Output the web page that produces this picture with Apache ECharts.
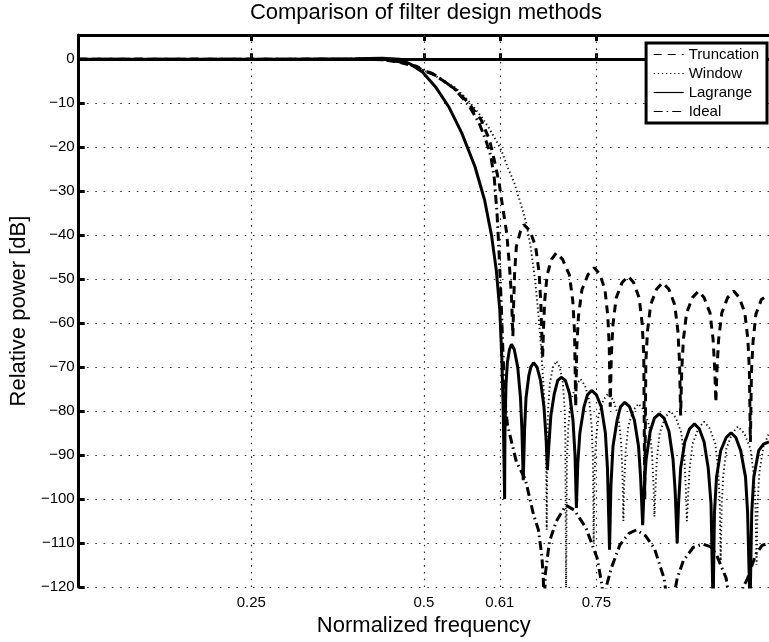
<!DOCTYPE html>
<html>
<head>
<meta charset="utf-8">
<title>Comparison of filter design methods</title>
<script src="https://cdn.jsdelivr.net/npm/echarts@6/dist/echarts.min.js"></script>
<style>
  html, body { margin: 0; padding: 0; background: #fff; }
  #chart { width: 769px; height: 642px; }
</style>
</head>
<body>
<div id="chart"></div>
<script>
// tick positions on the frequency axis
const xTicks = [0.25, 0.5, 0.61, 0.75];
const yMin = -120;
const yMax = 5.5;
const seriesNames = ["Truncation", "Window", "Lagrange", "Ideal"];

// [normalized frequency, relative power in dB]
const truncation = [
  [0, 0], [0.1, 0], [0.2, 0], [0.3, 0], [0.4, 0], [0.44, -0.1], [0.465, -0.7], [0.489, -1.7],
  [0.5, -2.6], [0.513, -3.4], [0.527, -4.8], [0.546, -6.9], [0.565, -10], [0.583, -13.8],
  [0.595, -18.3], [0.602, -22.9], [0.609, -28.1], [0.614, -33.4], [0.62, -39.5], [0.624, -47],
  [0.627, -54], [0.629, -63],
  [0.63, -56], [0.6315, -48.6], [0.634, -42.6], [0.64, -39.1], [0.645, -37.6], [0.654, -39.1],
  [0.662, -42.6], [0.667, -48.6], [0.6695, -55.6], [0.672, -68],
  [0.6732, -62], [0.675, -55], [0.6786, -49], [0.685, -45.5], [0.692, -44], [0.701, -45.5],
  [0.7108, -49], [0.7158, -55], [0.7183, -62], [0.72, -79],
  [0.7216, -65.4], [0.724, -58.4], [0.729, -52.4], [0.738, -48.9], [0.747, -47.4], [0.755, -48.9],
  [0.7624, -52.4], [0.7665, -58.4], [0.7686, -65.4], [0.77, -79],
  [0.7716, -67.3], [0.774, -60.3], [0.7786, -54.3], [0.787, -50.8], [0.796, -49.3], [0.804, -50.8],
  [0.812, -54.3], [0.8164, -60.3], [0.8186, -67.3], [0.82, -100],
  [0.8216, -68.8], [0.824, -61.8], [0.8286, -55.8], [0.837, -52.3], [0.846, -50.8], [0.855, -52.3],
  [0.8634, -55.8], [0.868, -61.8], [0.8704, -68.8], [0.872, -81],
  [0.8736, -70.7], [0.876, -63.7], [0.8806, -57.7], [0.889, -54.2], [0.898, -52.7], [0.906, -54.2],
  [0.9146, -57.7], [0.919, -63.7], [0.9215, -70.7], [0.923, -78],
  [0.9246, -70.7], [0.927, -63.7], [0.9316, -57.7], [0.94, -54.2], [0.949, -52.7], [0.957, -54.2],
  [0.965, -57.7], [0.9694, -63.7], [0.9716, -70.7], [0.973, -87],
  [0.9746, -71], [0.977, -64], [0.981, -58], [0.989, -54.6], [1, -53.5]
];

const windowed = [
  [0, 0], [0.1, 0], [0.2, 0], [0.3, 0], [0.4, 0], [0.44, -0.1], [0.465, -0.7], [0.489, -1.7],
  [0.5, -2.6], [0.513, -3.4], [0.527, -4.8], [0.546, -6.5], [0.565, -9.5], [0.583, -13],
  [0.593, -15.3], [0.603, -18], [0.612, -20.6], [0.621, -24.4], [0.631, -28.1], [0.64, -32.7],
  [0.648, -37], [0.655, -43], [0.661, -50], [0.666, -58], [0.67, -66], [0.674, -76], [0.677, -88],
  [0.678, -107],
  [0.679, -86.6], [0.68, -79.6], [0.6826, -73.6], [0.687, -70.1], [0.692, -68.6], [0.697, -70.1],
  [0.7014, -73.6], [0.704, -79.6], [0.705, -86.6], [0.706, -122],
  [0.7073, -90.7], [0.7092, -83.7], [0.713, -77.7], [0.72, -74.2], [0.727, -72.7], [0.7335, -74.2],
  [0.7397, -77.7], [0.7432, -83.7], [0.7449, -90.7], [0.746, -110],
  [0.7473, -94], [0.7492, -87], [0.753, -81], [0.76, -77.5], [0.767, -76], [0.7743, -77.5],
  [0.7817, -81], [0.7857, -87], [0.7877, -94], [0.789, -105],
  [0.7903, -96.3], [0.7923, -89.3], [0.7963, -83.3], [0.8035, -79.8], [0.811, -78.3], [0.8187, -79.8],
  [0.8264, -83.3], [0.8305, -89.3], [0.8326, -96.3], [0.834, -104],
  [0.8354, -98], [0.8375, -91], [0.8416, -85], [0.8493, -81.5], [0.857, -80], [0.865, -81.5],
  [0.8731, -85], [0.8774, -91], [0.8796, -98], [0.881, -105],
  [0.8825, -100.4], [0.8848, -93.4], [0.8893, -87.4], [0.8977, -83.9], [0.906, -82.4], [0.914, -83.9],
  [0.9222, -87.4], [0.9264, -93.4], [0.9286, -100.4], [0.93, -114],
  [0.9315, -101.5], [0.9338, -94.5], [0.9383, -88.5], [0.9467, -85], [0.955, -83.5], [0.964, -85],
  [0.9731, -88.5], [0.978, -94.5], [0.9804, -101.5], [0.982, -115],
  [0.9835, -101], [0.986, -94], [0.992, -88], [1, -85]
];

const lagrange = [
  [0, 0], [0.1, 0], [0.2, 0], [0.3, 0], [0.4, 0.1], [0.44, 0.2], [0.465, 0], [0.479, -1],
  [0.498, -2.9], [0.517, -6.3], [0.536, -10.8], [0.555, -16.8], [0.574, -24.4], [0.588, -32],
  [0.598, -40], [0.605, -48], [0.61, -57], [0.613, -68], [0.615, -80], [0.617, -100],
  [0.6175, -85], [0.619, -74], [0.621, -69], [0.624, -66], [0.627, -64.8], [0.631, -66],
  [0.636, -70], [0.64, -77], [0.642, -84], [0.644, -95.7],
  [0.646, -84], [0.648, -77], [0.652, -72], [0.655, -70], [0.659, -69], [0.664, -70],
  [0.669, -73], [0.674, -79], [0.677, -86], [0.679, -93.4],
  [0.681, -88], [0.684, -81], [0.689, -76], [0.694, -73], [0.699, -72.3], [0.705, -73],
  [0.711, -76], [0.716, -82], [0.719, -90], [0.721, -102],
  [0.723, -92], [0.726, -85], [0.732, -79], [0.737, -76.3], [0.743, -75.3], [0.75, -76.3],
  [0.757, -79], [0.763, -85], [0.766, -93], [0.769, -111.5],
  [0.771, -97], [0.774, -88], [0.78, -82], [0.785, -79], [0.791, -78], [0.798, -79],
  [0.805, -82], [0.811, -88], [0.814, -95], [0.817, -105.9],
  [0.819, -98], [0.822, -91], [0.828, -84.5], [0.834, -81.6], [0.841, -80.6], [0.848, -81.6],
  [0.855, -84.5], [0.861, -91], [0.864, -98], [0.867, -110],
  [0.869, -101], [0.872, -93], [0.878, -87], [0.885, -84], [0.892, -82.9], [0.899, -84],
  [0.906, -87], [0.912, -93], [0.916, -101], [0.919, -125],
  [0.921, -103], [0.924, -95], [0.93, -89], [0.938, -86], [0.945, -84.9], [0.952, -86],
  [0.959, -89], [0.966, -95], [0.969, -103], [0.9725, -125],
  [0.975, -103], [0.978, -95], [0.985, -89], [0.992, -87.5], [1, -87]
];

const ideal = [
  [0, 0], [0.1, 0], [0.2, 0], [0.3, 0], [0.4, 0], [0.44, -0.1], [0.465, -0.6], [0.489, -1.6],
  [0.5, -2.5], [0.513, -3.3], [0.527, -4.7], [0.546, -7], [0.565, -10.5], [0.58, -14.5],
  [0.59, -18.5], [0.597, -22], [0.602, -27], [0.606, -35], [0.609, -44], [0.612, -55],
  [0.614, -64], [0.616, -72], [0.618, -78], [0.621, -83], [0.634, -91.5], [0.647, -95.5],
  [0.659, -103.6], [0.666, -107], [0.671, -113], [0.673, -118], [0.6745, -126],
  [0.676, -117], [0.682, -109.6], [0.692, -105], [0.706, -101.4], [0.718, -102.5], [0.735, -106.6],
  [0.751, -113.4], [0.758, -119.5], [0.761, -126],
  [0.764, -120], [0.772, -115.5], [0.784, -110.4], [0.797, -107.8], [0.808, -107], [0.821, -108.3],
  [0.834, -111.2], [0.848, -118], [0.855, -126],
  [0.86, -124], [0.867, -118], [0.876, -114], [0.89, -111], [0.904, -110.2], [0.915, -110.8],
  [0.924, -112.7], [0.938, -118], [0.945, -126],
  [0.95, -124], [0.969, -118], [0.981, -112.5], [0.99, -110.5], [1, -110]
];

const font = '"Liberation Sans", Arial, Helvetica, sans-serif';
const black = "#000";

const chart = echarts.init(document.getElementById("chart"));

function curve(name, data, lineStyle) {
  return {
    name: name,
    type: "line",
    data: data,
    symbol: "none",
    showSymbol: false,
    clip: true,
    silent: true,
    lineStyle: lineStyle,
  };
}

const frame = { lineStyle: { color: black, width: 3 } };
const innerTick = { inside: true, length: 6, customValues: xTicks, lineStyle: { color: black, width: 3 } };

const option = {
  animation: false,
  backgroundColor: "#fff",
  textStyle: { fontFamily: font, color: black },
  title: {
    text: "Comparison of filter design methods",
    left: 421,
    top: -3,
    textAlign: "center",
    textStyle: { fontFamily: font, fontSize: 22, fontWeight: "normal", color: black },
  },
  legend: {
    data: seriesNames,
    orient: "vertical",
    right: 2,
    top: 43,
    align: "left",
    itemWidth: 30,
    itemHeight: 14,
    itemGap: 4,
    padding: [4, 8, 4, 7],
    borderColor: black,
    borderWidth: 3,
    borderRadius: 0,
    backgroundColor: "#fff",
    selectedMode: false,
    textStyle: { fontFamily: font, fontSize: 15, color: black },
    lineStyle: { width: 1.2 },
    itemStyle: { color: "rgba(0,0,0,0)", borderWidth: 0, opacity: 0 },
  },
  grid: { left: 73, right: -9, top: 35, bottom: 53 },
  xAxis: [
    {
      type: "value",
      min: 0,
      max: 1,
      position: "bottom",
      name: "Normalized frequency",
      nameLocation: "middle",
      nameGap: 24,
      nameTextStyle: { fontFamily: font, fontSize: 22, color: black },
      axisLine: frame,
      axisTick: innerTick,
      axisLabel: {
        customValues: xTicks,
        margin: 8,
        fontSize: 15,
        color: black,
        formatter: (v) => String(v),
      },
      splitLine: { show: false },
    },
    {
      type: "value",
      min: 0,
      max: 1,
      position: "top",
      axisLine: frame,
      axisTick: innerTick,
      axisLabel: { show: false },
      splitLine: { show: false },
    },
  ],
  yAxis: {
    type: "value",
    min: yMin,
    max: yMax,
    interval: 10,
    name: "Relative power [dB]",
    nameLocation: "middle",
    nameRotate: 90,
    nameGap: 44,
    nameTextStyle: { fontFamily: font, fontSize: 22, color: black },
    axisLine: frame,
    axisTick: { inside: true, length: 6, lineStyle: { color: black, width: 3 } },
    axisLabel: {
      showMaxLabel: false,
      margin: 4,
      fontSize: 15,
      color: black,
      formatter: (v) => (v < 0 ? "\u2212" + -v : String(v)),
    },
    splitLine: { show: true, lineStyle: { color: "#333", width: 1.2, type: [1.6, 6.7] } },
  },
  series: [
    curve("Window", windowed, { color: "#111", width: 1.9, type: [1.3, 2.8] }),
    curve("Ideal", ideal, { color: black, width: 3, type: [9, 4, 1.5, 4] }),
    curve("Truncation", truncation, { color: black, width: 3, type: [8, 6] }),
    Object.assign(curve("Lagrange", lagrange, { color: black, width: 3 }), {
      markLine: {
        silent: true,
        symbol: "none",
        z: 1,
        label: { show: false },
        lineStyle: { color: "#333", width: 1.2, type: [1.6, 5.2] },
        data: xTicks.map((v) => ({ xAxis: v })),
      },
    }),
  ],
};

chart.setOption(option);
</script>
</body>
</html>
